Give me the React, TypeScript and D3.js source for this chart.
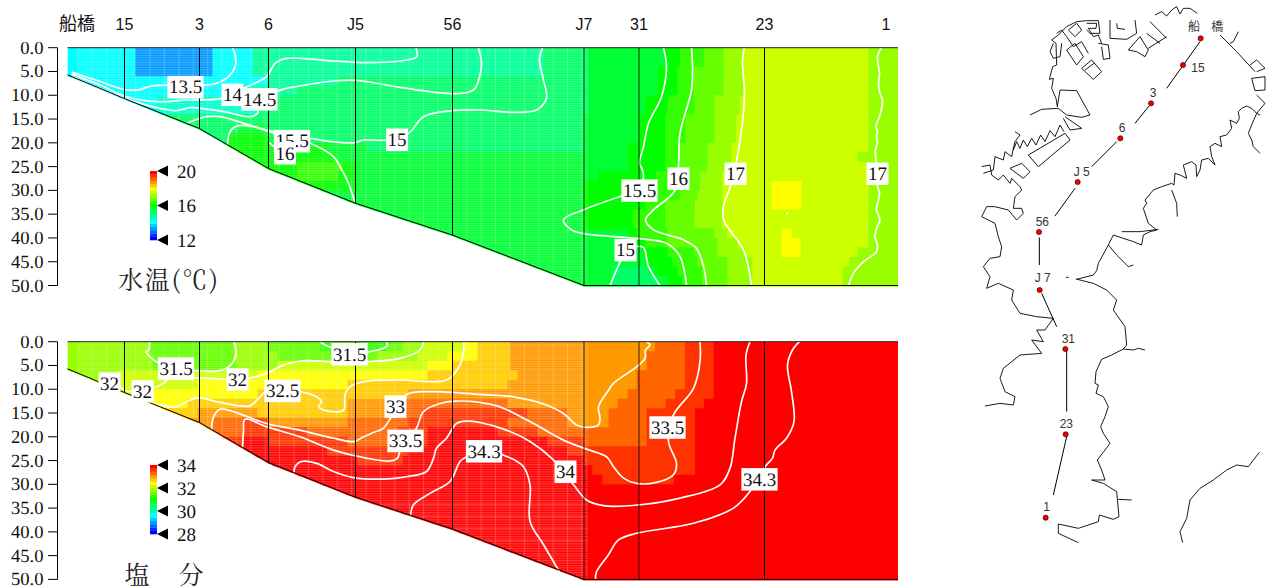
import React from "react";
import * as d3 from "d3";

type Pt = [number, number];
type Run = [number, number];

// Section geometry: distance along the transect (km) and bottom depth (m)
const stationDist = [5.7, 13.2, 20.1, 28.8, 38.5, 51.65, 57.15, 69.7];
const stationBottom = [10.7, 17, 25.4, 32.7, 39.4, 50, 50, 50];
const headerNames = ["船橋", "15", "3", "6", "J5", "56", "J7", "31", "23", "1"];
const headerDist = [0.95, 5.7, 13.2, 20.1, 28.8, 38.5, 51.65, 57.15, 69.7, 81.85];
const bottomProfile: Pt[] = [[0, 5.7], [5.7, 10.7], [13.2, 17], [20.1, 25.4], [28.8, 32.7], [38.5, 39.4], [51.65, 50], [83.05, 50]];
const depthTicks = [0, 5, 10, 15, 20, 25, 30, 35, 40, 45, 50];
const maxDist = 83.05;
const rowStep = 2;

// Temperature, one list per 2 m layer: [distance where the run ends, value]
const tempRows: Run[][] = [
  [[6.75, 14], [14.5, 13.2], [18.5, 14], [47.6, 14.8], [52.1, 15.2], [59.75, 15.6], [61.25, 16], [63.65, 16.4], [65.6, 16.8], [67.6, 17.2], [80.1, 17.6], [83.05, 17.2]],
  [[6.75, 14], [14.5, 13.2], [18.5, 14], [47.6, 14.8], [52.1, 15.2], [59.75, 15.6], [61.25, 16], [63.65, 16.4], [65.6, 16.8], [67.6, 17.2], [80.1, 17.6], [83.05, 17.2]],
  [[6.75, 14], [14.5, 13.2], [18.5, 14], [47.6, 14.8], [52.1, 15.2], [59, 15.6], [61, 16], [62.6, 16.4], [65.6, 16.8], [67.6, 17.2], [80.1, 17.6], [83.05, 17.2]],
  [[20, 14], [27, 14.8], [52.1, 15.2], [59, 15.6], [61, 16], [62.6, 16.4], [65.6, 16.8], [67.6, 17.2], [80.1, 17.6], [83.05, 17.2]],
  [[17, 14], [23, 14.8], [52.1, 15.2], [59, 15.6], [61, 16], [62.6, 16.4], [65.6, 16.8], [67.6, 17.2], [80.1, 17.6], [83.05, 17.2]],
  [[9, 14], [19.5, 14.4], [52.1, 15.2], [57.8, 15.6], [60, 16], [62.7, 16.4], [64.7, 16.8], [67.3, 17.2], [80.1, 17.6], [83.05, 17.2]],
  [[19, 14.4], [38, 15.2], [52.1, 15.2], [57.8, 15.6], [60, 16], [62.7, 16.4], [64.7, 16.8], [67.3, 17.2], [80.1, 17.6], [83.05, 17.2]],
  [[36, 15.2], [51.65, 15.2], [57.2, 15.6], [59.75, 16], [61.8, 16.4], [64.7, 16.8], [66.9, 17.2], [80.1, 17.6], [83.05, 17.2]],
  [[17, 15.2], [20, 15.6], [33, 15.2], [51.65, 15.2], [57.2, 15.6], [59.75, 16], [61.8, 16.4], [64.7, 16.8], [66.9, 17.2], [80.1, 17.6], [83.05, 17.2]],
  [[16, 15.2], [20, 16], [24, 15.6], [29, 15.2], [51.65, 15.2], [57.2, 15.6], [59.75, 16], [61.8, 16.4], [64.7, 16.8], [66.9, 17.2], [80.1, 17.6], [83.05, 17.2]],
  [[26, 16], [30, 15.6], [51.65, 15.2], [56, 15.6], [59.75, 16], [61.3, 16.4], [64, 16.8], [66.4, 17.2], [80.1, 17.6], [83.05, 17.2]],
  [[27, 16], [29, 15.6], [51.65, 15.6], [56, 15.6], [59.75, 16], [61.3, 16.4], [64, 16.8], [66.4, 17.2], [79, 17.6], [83.05, 17.2]],
  [[23, 16], [27.5, 16.4], [29, 16], [51.65, 15.6], [56, 15.6], [59.75, 16], [61.3, 16.4], [64, 16.8], [66.4, 17.2], [80.1, 17.6], [83.05, 17.2]],
  [[23, 16], [27, 16.4], [29, 16], [53, 15.6], [58.9, 16], [60.5, 16.4], [63.3, 16.8], [65.5, 17.2], [80.1, 17.6], [83.05, 17.2]],
  [[29, 16], [51.65, 15.6], [58.9, 16], [60.5, 16.4], [63.3, 16.8], [65.5, 17.2], [70.4, 17.6], [73.4, 18], [80.1, 17.6], [83.05, 17.2]],
  [[51.65, 15.6], [58.9, 16], [61.25, 16.4], [63, 16.8], [65.5, 17.2], [70.4, 17.6], [73.4, 18], [80.1, 17.6], [83.05, 17.2]],
  [[51.65, 15.6], [57.8, 16], [59.75, 16.4], [62.75, 16.8], [65.5, 17.2], [70.4, 17.6], [73.4, 18], [80.1, 17.6], [83.05, 17.2]],
  [[51.65, 15.6], [56.5, 16], [59.75, 16.4], [62.7, 16.8], [65.5, 17.2], [80.1, 17.6], [83.05, 17.2]],
  [[51.65, 15.6], [56.5, 16], [59.75, 16.4], [62.7, 16.8], [65.5, 17.2], [80.1, 17.6], [83.05, 17.2]],
  [[56, 15.6], [57, 16], [60, 16.4], [64.7, 16.8], [66, 17.2], [71.4, 17.6], [72.4, 18], [80.1, 17.6], [83.05, 17.2]],
  [[56, 15.6], [57.8, 16], [60, 16.4], [65, 16.8], [67, 17.2], [71.4, 17.6], [73.3, 18], [80.1, 17.6], [83.05, 17.2]],
  [[57.5, 15.6], [60, 16], [62.7, 16.4], [65, 16.8], [67.8, 17.2], [71.4, 17.6], [73.3, 18], [79, 17.6], [83.05, 17.2]],
  [[58, 15.6], [60.5, 16], [63, 16.4], [66, 16.8], [68.5, 17.2], [78.2, 17.6], [83.05, 17.2]],
  [[54.5, 15.6], [58, 15.2], [59, 15.6], [61, 16], [63.5, 16.4], [66, 16.8], [68.5, 17.2], [77.5, 17.6], [83.05, 17.2]],
  [[54.5, 15.6], [59, 15.2], [60, 15.6], [61.5, 16], [63.5, 16.4], [66, 16.8], [68.5, 17.2], [77.5, 17.6], [83.05, 17.2]],
];

// Salinity, same layout
const salRows: Run[][] = [
  [[8.25, 31.9], [16.6, 31.6], [19.9, 31.9], [25.25, 31.6], [31.9, 31.3], [33.5, 31.6], [35.6, 31.9], [39.6, 32.2], [41, 32.5], [44.25, 32.8], [58.75, 33.1], [61.75, 33.4], [64.6, 33.7], [83.05, 34]],
  [[8.25, 31.9], [16.6, 31.6], [21, 31.9], [31, 31.6], [35, 31.9], [38, 32.2], [41, 32.5], [44.25, 32.8], [57.9, 33.1], [61.75, 33.4], [64.6, 33.7], [83.05, 34]],
  [[8.5, 31.9], [17, 31.6], [21, 31.9], [36, 32.2], [38.5, 32.5], [44.25, 32.8], [57.9, 33.1], [61.75, 33.4], [64.6, 33.7], [83.05, 34]],
  [[5, 31.9], [19, 32.2], [36, 32.5], [45, 32.8], [56.9, 33.1], [61.75, 33.4], [64.6, 33.7], [83.05, 34]],
  [[13, 32.2], [28, 32.5], [44, 32.8], [56.9, 33.1], [61.75, 33.4], [64.6, 33.7], [83.05, 34]],
  [[7.5, 32.2], [19, 32.5], [34, 32.8], [56, 33.1], [60.75, 33.4], [64.6, 33.7], [83.05, 34]],
  [[12, 32.5], [28, 32.8], [33, 33.1], [44, 33.4], [55, 33.1], [59.8, 33.4], [63.65, 33.7], [83.05, 34]],
  [[13, 32.8], [19, 33.1], [28, 32.8], [33, 33.1], [35.5, 33.4], [46, 33.7], [50, 33.4], [54.1, 33.1], [57.9, 33.4], [62.75, 33.7], [83.05, 34]],
  [[14.5, 33.1], [17.6, 33.4], [20, 33.7], [28, 33.1], [34, 33.4], [44, 33.7], [50, 33.4], [54.1, 33.1], [57.9, 33.4], [62.75, 33.7], [83.05, 34]],
  [[17.5, 33.4], [24, 33.7], [33, 33.4], [36, 33.7], [43, 34], [47, 33.7], [57.9, 33.4], [62.75, 33.7], [83.05, 34]],
  [[17.5, 33.7], [20, 34], [28, 33.7], [33, 33.4], [36, 33.7], [48, 34], [51.65, 33.7], [57.9, 33.4], [62.75, 33.7], [83.05, 34]],
  [[26, 34], [34, 33.7], [50, 34], [62.75, 33.7], [83.05, 34]],
  [[29, 34], [33.5, 33.7], [51.65, 34], [62.75, 33.7], [83.05, 34]],
  [[52.5, 34], [62.75, 33.7], [83.05, 34]],
  [[53.5, 34], [60.6, 33.7], [83.05, 34]],
  [[83.05, 34]], [[83.05, 34]], [[83.05, 34]], [[83.05, 34]], [[83.05, 34]],
  [[83.05, 34]], [[83.05, 34]], [[83.05, 34]], [[83.05, 34]], [[83.05, 34]],
];

// Temperature contours as [distance km, depth m]
const tempContours: Pt[][] = [
  [[0.4, 5.1], [3.25, 7.1], [5.75, 8.8], [7.25, 8.8], [8.25, 8.1], [10.1, 7.85], [13.6, 7.85], [14.9, 7.5], [16.25, 5.75], [16.8, 3.6], [16.75, 1.5], [16.5, 0]],
  [[0.4, 5.5], [3.25, 7.85], [5.75, 10.2], [8.9, 11.35], [11.9, 11], [15.4, 10.65], [17.6, 8.55], [19.9, 6.1], [20.75, 3.3], [21.9, 2.25], [26.6, 2.8], [29.9, 3.15], [33.25, 2.8], [34.9, 1.9], [34.85, 0]],
  [[0.4, 5.96], [5.75, 10.65], [9.25, 12.75], [10.9, 13.25], [12.25, 12.6], [15.25, 13.3], [18.25, 14.5], [19, 13.8], [19.1, 12.75], [20.9, 9.25], [23.25, 8.06], [26.6, 7], [28.9, 6.87], [33.25, 8.34], [37.9, 9.6], [39.9, 9.46], [40.75, 8.55], [41.25, 5.75], [41.4, 3.3], [41.1, 0]],
  [[11.9, 15.9], [13.9, 14.5], [15.25, 14.5], [19.9, 17.3], [25.25, 19.4], [28.6, 20], [29.6, 19.4], [31.9, 19.4], [34.1, 18], [35.6, 14.5], [38.25, 13.3], [41.25, 13.1], [44.6, 13.6], [46.9, 13.1], [47.9, 10.65], [47.6, 6.8], [47.2, 2.6], [47.5, 0]],
  [[16, 20.5], [16.25, 17.7], [16.9, 16.5], [18.6, 16.6], [20.6, 18], [24.25, 20.1], [26.6, 22.9], [27.25, 25], [28.1, 28.5], [28.75, 32.7]],
  [[20.2, 20], [20.6, 20.7], [21, 21]],
  [[59.6, 0], [59.9, 4], [59.4, 10.3], [58.1, 15.9], [57.6, 20.8], [57.2, 24.3], [57.5, 25.7], [57.6, 27.1], [57.2, 30], [55.25, 31.3], [51.6, 34.1], [49.6, 36.2], [50.4, 38.3], [51.9, 39.2], [56.9, 40.1], [59.9, 41.1], [61.25, 43.9], [61.9, 50]],
  [[54.25, 50], [55.2, 45.3], [55.8, 42.5], [56.9, 41.8], [57.6, 42], [58.1, 46], [59.25, 50]],
  [[62.4, 0], [62.5, 4], [62.4, 8.9], [61.25, 18], [61.1, 25], [60.75, 30], [58.6, 34.1], [57.8, 36.2], [58.6, 38.3], [61.6, 40.4], [62.9, 42.2], [63.6, 46], [63.9, 50]],
  [[67.7, 0], [67.5, 2.6], [67.7, 10.3], [66.9, 24], [66.3, 29.1], [65.6, 33.4], [65.6, 36.2], [67.6, 42.5], [68.4, 50]],
  [[81.4, 0], [81, 1.9], [81.2, 5.4], [81.1, 7.5], [81.25, 9.6], [81.5, 11], [81.25, 14.2], [80.85, 16.6], [81, 17.6], [80.9, 18.7], [81, 20], [80.8, 21.5], [80.85, 24], [81, 29.2], [81.2, 30.5], [81.1, 32], [80.9, 34.1], [81.25, 36.2], [80.9, 38], [80.75, 39.7], [81, 41.5], [80.9, 42.9], [79.6, 45], [78.6, 47.4], [78.1, 50]],
  [[71.9, 34.7], [72, 34.9], [72, 34.6]],
];

const salContours: Pt[][] = [
  [[8.2, 0], [8.1, 1.8], [7.85, 2.1], [8.25, 3.2], [9.2, 4.6], [10.85, 5.6], [12.6, 6], [14.9, 6.2], [16.1, 5.3], [16.8, 3.2], [16.85, 1.8], [16.65, 0]],
  [[25.25, 0], [26.1, 1.05], [26.6, 1.3], [28.2, 2.6], [29.9, 2.2], [31.6, 1.4], [32, 0.7], [31.85, 0]],
  [[5.25, 9.46], [5.75, 10.2], [6.5, 10.5], [8.5, 9.8], [9.75, 8.55], [10.1, 7.7], [12.6, 7.6], [15.9, 7.85], [18.1, 7.7], [19.9, 6.66], [21.6, 4.9], [23.25, 4.06], [26.6, 4.2], [29.9, 4.2], [33.25, 3.5], [35.25, 1.75], [35.6, 0]],
  [[8.6, 12.96], [10.9, 13.7], [11.9, 12.6], [13.1, 11.8], [15.25, 12.75], [18.25, 13.5], [19.1, 11.9], [19.9, 10.5], [23.25, 10.5], [24.9, 11.6], [25.4, 12.6], [25.1, 13.7], [26.1, 14.6], [27.6, 14.4], [27.75, 11.2], [28.25, 9.46], [29.9, 8.3], [33.25, 8.06], [37.9, 8.06], [39.25, 4.9], [39.6, 2.1], [39.65, 0]],
  [[14.4, 18.6], [14.6, 15.8], [15.25, 14.2], [16.6, 14.7], [19.9, 17.2], [23.25, 18.6], [26.6, 20.3], [28.6, 21], [29.6, 20], [30.6, 19.1], [31.6, 18.2], [32.3, 16.1], [33.9, 11.1], [36.6, 10.5], [41.25, 11.1], [44.6, 11.6], [47.9, 13.3], [49.6, 15.1], [50.9, 17.5], [51.9, 18], [53.1, 17.5], [53.25, 16.1], [53.1, 13.7], [54.1, 10.2], [54.6, 8.76], [56.9, 5.3], [57.75, 3.5], [57.8, 1.75], [58.25, 0.7], [57.9, 0]],
  [[17.5, 22.4], [17.6, 18.9], [17.75, 16.3], [19.9, 17.9], [23.25, 20], [26.6, 22.8], [29.9, 24.5], [32.25, 25.1], [33, 24.5], [33.25, 23.1], [34.9, 18.2], [35.6, 14.7], [37.25, 13], [38.9, 12.5], [41.25, 12.75], [43.25, 13.7], [46.25, 16.8], [49.6, 20.7], [51.9, 22.6], [53.9, 24.2], [54.6, 26.3], [55.6, 28.7], [56.9, 29.8], [58.9, 29.6], [60.6, 28], [60.9, 25.6], [60.1, 21], [60.6, 15.4], [62.6, 9.8], [63.25, 4.2], [63.25, 0]],
  [[22.65, 27.7], [22.75, 26.3], [23.4, 25.2], [24.9, 25.6], [26.6, 27.3], [28.6, 28.6], [31.6, 28.9], [33.9, 28.4], [35.9, 27.3], [36.6, 24.5], [36.9, 22.4], [37.9, 20.3], [38.9, 17.2], [39.9, 16.7], [41.25, 17], [43.9, 18.6], [46.25, 21], [48.4, 24.5], [50.6, 30.1], [51.9, 33.3], [53.6, 34.5], [57.25, 34.3], [61.25, 32.9], [65.25, 30.1], [66.25, 26.6], [66.75, 20.3], [67.4, 12.6], [67.9, 8.8], [67.85, 2.8], [68.25, 0]],
  [[34.3, 36.6], [34.6, 34.3], [36.25, 31.9], [38.25, 29.4], [39.25, 25.2], [39.9, 24.2], [41.65, 23], [43.4, 23.7], [45.6, 26.3], [46.25, 30.1], [46.25, 37.8], [47.6, 42.7], [49.2, 48.4]],
  [[52.8, 50], [52.9, 48.4], [54.1, 44.8], [55.1, 41.7], [56.9, 40.3], [62.6, 38.2], [66.6, 35], [68.25, 31.5], [69.75, 26.3], [70.5, 24.5], [70.75, 22.8], [71.9, 20.3], [72.65, 16.8], [72.4, 10.5], [72, 4.9], [72.5, 1.75], [73.2, 0]],
];

// Contour labels: text, distance, depth
const tempLabelText = ["13.5", "14", "14.5", "15.5", "16", "15", "15.5", "16", "17", "17", "15"];
const tempLabelDist = [11.8, 16.5, 19.2, 22.45, 21.75, 32.95, 57.2, 61.1, 66.8, 81, 55.8];
const tempLabelDepth = [8.25, 9.85, 10.8, 19.6, 22.15, 19.3, 30, 27.5, 26.45, 26.45, 42.5];
const salLabelText = ["32", "32", "31.5", "32", "32.5", "31.5", "33", "33.5", "34.3", "34", "33.5", "34.3"];
const salLabelDist = [4.2, 7.5, 10.85, 17, 21.5, 28.2, 32.8, 33.8, 41.65, 49.8, 60, 69.2];
const salLabelDepth = [8.76, 10.4, 5.6, 7.9, 10.3, 2.6, 13.6, 20.8, 23, 27.3, 18, 28.9];

const tempDomain: Pt = [12, 20];
const salDomain: Pt = [28, 34];
const tempBarTicks = [20, 16, 12];
const salBarTicks = [34, 32, 30, 28];

// Location map, in map grid units
const mapStations: Pt[] = [[692, 115], [639, 195], [543, 310], [451, 415], [323, 546], [207, 696], [209, 870], [286, 1047], [287, 1303], [227, 1553]];
const mapLabelText = ["船", "橋", "15", "3", "6", "J 5", "56", "J 7", "31", "23", "1"];
const mapLabelPos: Pt[] = [[672, 80], [742, 80], [684, 203], [549, 277], [456, 381], [335, 514], [217, 663], [218, 832], [295, 1015], [289, 1270], [230, 1520]];
const mapTracks: Pt[][] = [
  [[690, 125], [590, 265]], [[537, 318], [495, 370]], [[440, 425], [365, 500]], [[315, 565], [255, 648]],
  [[208, 712], [208, 795]], [[215, 880], [260, 980]], [[290, 1050], [290, 1235]], [[290, 1310], [250, 1485]],
];
const mapCoast: Pt[][] = [
  [[180, 345], [215, 328], [265, 325], [290, 345], [335, 352], [360, 345], [320, 272], [270, 270], [262, 320]],
  [[262, 320], [258, 295], [245, 265], [250, 235], [238, 238], [248, 200], [260, 195], [258, 130], [245, 120], [265, 105], [290, 80], [320, 65], [350, 62], [385, 62], [390, 100], [360, 100], [350, 90]],
  [[250, 130], [240, 155], [250, 175], [270, 170], [275, 130]],
  [[260, 100], [275, 90], [290, 110], [310, 140], [335, 125], [355, 160]],
  [[290, 150], [315, 130], [340, 170], [320, 195], [290, 150]],
  [[295, 90], [320, 70], [335, 90], [315, 110], [295, 90]],
  [[350, 70], [380, 70], [378, 85], [355, 85], [370, 110], [385, 105], [395, 130]],
  [[335, 205], [365, 180], [395, 215], [370, 238], [335, 205]],
  [[345, 210], [372, 190]],
  [[385, 130], [415, 135], [420, 175], [400, 178], [395, 140]],
  [[420, 60], [420, 115], [470, 118], [500, 100], [495, 60]],
  [[440, 70], [442, 85], [465, 88]],
  [[475, 150], [510, 110], [535, 150], [525, 170], [500, 155], [475, 150]],
  [[535, 145], [590, 110]], [[530, 100], [570, 130]], [[540, 65], [590, 115]],
  [[555, 45], [575, 35], [590, 48], [605, 30], [620, 20], [630, 42], [640, 25], [660, 25], [682, 40]],
  [[750, 105], [800, 155], [855, 215]], [[780, 130], [790, 125], [805, 95]],
  [[840, 195], [860, 180], [885, 205], [860, 215]],
  [[845, 235], [885, 230], [885, 270], [855, 272], [845, 235]],
  [[860, 285], [885, 310], [860, 340], [870, 345]],
  [[870, 460], [850, 440], [845, 420], [835, 400], [845, 375], [860, 340], [845, 325], [830, 318], [815, 325], [805, 335], [808, 355], [800, 370], [780, 360], [785, 385], [770, 405], [750, 410], [755, 440], [735, 430], [720, 440], [725, 470], [735, 495], [715, 475], [695, 480], [690, 510], [680, 530], [678, 495], [665, 485], [640, 495], [650, 535], [630, 525], [615, 520], [612, 555], [605, 550], [575, 560], [550, 570], [525, 600], [530, 610], [520, 625], [535, 670], [560, 690], [540, 695], [520, 705], [515, 735], [490, 725], [430, 705], [415, 735], [440, 765], [475, 800], [490, 795]],
  [[605, 570], [620, 610], [622, 650]],
  [[455, 695], [510, 695], [565, 688]],
  [[415, 735], [385, 790], [380, 812], [370, 825], [320, 838]],
  [[318, 837], [370, 850], [410, 870], [440, 900], [430, 930], [465, 980], [470, 1035], [460, 1047], [425, 1065], [395, 1078], [378, 1115], [375, 1150], [385, 1155], [378, 1180], [400, 1190], [415, 1220], [405, 1250], [392, 1280], [400, 1300], [420, 1330], [405, 1350], [382, 1380], [395, 1410], [405, 1440], [365, 1440], [400, 1450], [440, 1475], [447, 1550], [430, 1558], [388, 1545], [385, 1565], [325, 1585], [265, 1572], [265, 1600], [325, 1628]],
  [[460, 1047], [490, 1050], [505, 1045], [525, 1050]], [[445, 1498], [485, 1500]],
  [[868, 1357], [835, 1400], [800, 1395], [770, 1410], [730, 1440], [690, 1465], [660, 1500], [650, 1555], [630, 1595], [638, 1628]],
  [[40, 520], [70, 510], [75, 470], [100, 480], [105, 455], [125, 470], [130, 445], [135, 425], [150, 405], [135, 395]],
  [[130, 450], [140, 425], [150, 445], [160, 420], [172, 440], [185, 415], [198, 435], [212, 405], [225, 425], [240, 392], [255, 410], [270, 375], [282, 395]],
  [[175, 465], [285, 400], [300, 420], [205, 500], [175, 465]],
  [[120, 505], [155, 490], [180, 515], [160, 535], [120, 505]],
  [[280, 355], [300, 390], [335, 385], [285, 350]],
  [[35, 500], [60, 495], [65, 525], [85, 540], [100, 525], [120, 550], [125, 535], [150, 560], [155, 570], [135, 590], [130, 625], [155, 625], [160, 640], [140, 660], [115, 630], [75, 620], [50, 620], [35, 650], [75, 670], [85, 710], [95, 740], [90, 770], [60, 775], [40, 800], [60, 830], [50, 865], [85, 850], [130, 870], [125, 900], [150, 940], [200, 950], [250, 955], [225, 990], [200, 990], [220, 1025], [185, 1020], [215, 1060], [150, 1065], [100, 1105], [90, 1135], [105, 1175], [135, 1190], [130, 1215], [90, 1210], [45, 1218]],
  [[288, 832], [296, 832]],
];

const NUM_FONT = "Liberation Serif";
const SANS = "Liberation Sans";
const CJK = "Noto Sans CJK JP";
const TITLE_FONT = "Noto Serif CJK JP";

const x = d3.scaleLinear().domain([0, maxDist]).range([67.5, 898]);
const mapX = d3.scaleLinear().domain([0, 921]).range([970, 1277]);
const mapY = d3.scaleLinear().domain([0, 1764]).range([0, 588]);

const rainbow = d3.scaleLinear<string>().domain([0, 0.25, 0.5, 0.75, 1]).range(["#0000ff", "#00ffff", "#00ff00", "#ffff00", "#ff0000"]).interpolate(d3.interpolateRgb);
const stepped = (t: number) => rainbow(Math.round(Math.max(0, Math.min(1, t)) * 20) / 20);

function Panel({ id, top, bottom, rows, contours, labelText, labelDist, labelDepth, domain, barTicks, barTop, barBottom }: {
  id: string; top: number; bottom: number; rows: Run[][]; contours: Pt[][];
  labelText: string[]; labelDist: number[]; labelDepth: number[]; domain: Pt; barTicks: number[]; barTop: number; barBottom: number;
}) {
  const y = d3.scaleLinear().domain([0, 50]).range([top, bottom]);
  const norm = d3.scaleLinear().domain(domain).range([0, 1]);
  const clip = [[0, 0] as Pt, [maxDist, 0] as Pt, ...bottomProfile.slice().reverse()];
  const clipPath = d3.line<Pt>().x(d => x(d[0])).y(d => (d[1] === 0 ? y(0) : y(d[1]) + 1.2))(clip) + "Z";
  const contourLine = d3.line<Pt>().x(d => x(d[0])).y(d => y(d[1])).curve(d3.curveCatmullRom.alpha(0.5));
  const bottomLine = d3.line<Pt>().x(d => x(d[0])).y(d => y(d[1]))(bottomProfile) as string;
  const levels = d3.range(21);
  const barY = d3.scaleLinear().domain(domain).range([barBottom, barTop]);
  const levelH = (barBottom - barTop) / 21;
  const moireEnd = x(52.05);
  return (
    <g>
      <defs>
        <clipPath id={`clip-${id}`}><path d={clipPath} /></clipPath>
        <pattern id={`moire-${id}`} width="14.4" height="2.4" patternUnits="userSpaceOnUse" x={x(1)} y={top}>
          <rect x="0" y="0" width="14.4" height="1.2" fill="#fff" opacity="0.2" />
          <rect x="0" y="0" width="1" height="2.4" fill="#fff" opacity="0.2" />
        </pattern>
      </defs>
      <g clipPath={`url(#clip-${id})`}>
        {rows.map((row, i) => {
          let start = 0;
          return row.map((run, j) => {
            const x0 = x(start);
            start = run[0];
            return <rect key={`${i}-${j}`} x={x0} y={y(i * rowStep)} width={x(run[0]) - x0 + 0.4} height={y(rowStep) - y(0) + 2} fill={stepped(norm(run[1]))} />;
          });
        })}
        <rect x={x(1)} y={top} width={moireEnd - x(1)} height={bottom - top} fill={`url(#moire-${id})`} />
        {contours.map((c, i) => (
          <path key={i} d={contourLine(c) as string} fill="none" stroke="#fff" strokeWidth={1.7} />
        ))}
      </g>
      {stationDist.map((d, i) => (
        <line key={i} x1={x(d)} x2={x(d)} y1={y(0)} y2={y(stationBottom[i])} stroke="#000" strokeWidth={1} opacity={i > 4 && i < 7 ? 0.8 : 1} />
      ))}
      <line x1={x(0)} x2={x(maxDist)} y1={y(0)} y2={y(0)} stroke="#222" strokeWidth={1} />
      <path d={bottomLine} fill="none" stroke="#000" strokeWidth={1} />
      {/* depth axis */}
      <line x1={57.5} x2={57.5} y1={y(0)} y2={y(50)} stroke="#000" />
      {depthTicks.map(t => (
        <g key={t}>
          <line x1={48} x2={57.5} y1={y(t)} y2={y(t)} stroke="#000" />
          <text x={43.5} y={y(t) + 6} textAnchor="end" fontFamily={NUM_FONT} fontSize={18.6} fill="#111" textRendering="geometricPrecision">{t.toFixed(1)}</text>
        </g>
      ))}
      {/* contour labels */}
      {labelText.map((t, i) => {
        const w = t.length * 9.5 - (t.includes(".") ? 4.75 : 0) + 3;
        return (
          <g key={i}>
            <rect x={x(labelDist[i]) - w / 2} y={y(labelDepth[i]) - 11} width={w} height={22.5} fill="#fff" />
            <text x={x(labelDist[i])} y={y(labelDepth[i]) + 6.5} textAnchor="middle" fontFamily={NUM_FONT} fontSize={19} fill="#111" textRendering="geometricPrecision">{t}</text>
          </g>
        );
      })}
      {/* colour bar */}
      {levels.map(l => (
        <rect key={l} x={150} y={barBottom - (l + 1) * levelH} width={7} height={levelH + 0.3} fill={stepped(l / 20)} />
      ))}
      {barTicks.map(t => (
        <g key={t}>
          <path d={`M157,${barY(t)}l11,-5.5v11z`} fill="#000" />
          <text x={177} y={barY(t) + 6.5} fontFamily={NUM_FONT} fontSize={19} fill="#111" textRendering="geometricPrecision">{t}</text>
        </g>
      ))}
    </g>
  );
}

export default function App() {
  const trackLine = d3.line<Pt>().x(d => mapX(d[0])).y(d => mapY(d[1]));
  const coastLine = d3.line<Pt>().x(d => mapX(d[0])).y(d => mapY(d[1]));
  return (
    <svg width={1277} height={588} style={{ position: "absolute", left: 0, top: 0, display: "block", background: "#fff" }}>
      {headerNames.map((n, i) => (
        <text key={n} x={x(headerDist[i])} y={30} textAnchor="middle" fontSize={n === "船橋" ? 18 : 16} fontFamily={n === "船橋" ? CJK : SANS} fill="#111">{n}</text>
      ))}
      <Panel id="t" top={47.7} bottom={285.5} rows={tempRows} contours={tempContours} labelText={tempLabelText} labelDist={tempLabelDist} labelDepth={tempLabelDepth} domain={tempDomain} barTicks={tempBarTicks} barTop={171} barBottom={240} />
      <Panel id="s" top={341.7} bottom={579.4} rows={salRows} contours={salContours} labelText={salLabelText} labelDist={salLabelDist} labelDepth={salLabelDepth} domain={salDomain} barTicks={salBarTicks} barTop={465} barBottom={534} />
      <text x={118} y={289} fontFamily={TITLE_FONT} fontSize={25} fill="#222" textLength={100} lengthAdjust="spacing">水温(℃)</text>
      <text x={165} y={584} textAnchor="middle" fontFamily={TITLE_FONT} fontSize={25} fill="#222" letterSpacing={2}>塩　分</text>
      {/* map */}
      {mapCoast.map((c, i) => <path key={i} d={coastLine(c) as string} fill="none" stroke="#000" strokeWidth={0.9} />)}
      {mapTracks.map((c, i) => <path key={i} d={trackLine(c) as string} fill="none" stroke="#000" strokeWidth={1} />)}
      {mapStations.map((s, i) => <circle key={i} cx={mapX(s[0])} cy={mapY(s[1])} r={2.6} fill="#e00" stroke="#300" strokeWidth={0.6} />)}
      {mapLabelText.map((t, i) => (
        <text key={i} x={mapX(mapLabelPos[i][0])} y={mapY(mapLabelPos[i][1]) + 4.5} textAnchor="middle" fontFamily={i < 2 ? CJK : SANS} fontSize={12} fill="#333">{t}</text>
      ))}
    </svg>
  );
}
